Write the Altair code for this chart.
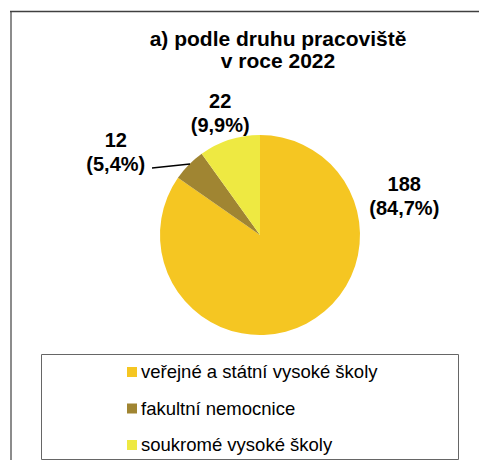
import math
import altair as alt
import pandas as pd

# ---- data ----
categories = ["veřejné a státní vysoké školy", "fakultní nemocnice", "soukromé vysoké školy"]
counts = [188, 12, 22]
colors = ["#F5C622", "#A08532", "#EEE942"]
title_lines = ["a) podle druhu pracoviště", "v roce 2022"]

total = sum(counts)
labels = [f"{v}\n({v / total * 100:.1f}%)".replace(".", ",") for v in counts]

df = pd.DataFrame({"cat": categories, "value": counts, "idx": list(range(len(counts))), "label": labels})
one = alt.Data(values=[{"k": 0}])

W, H = 471, 452
FONT = "Liberation Sans"
CX, CY = 252, 227

color = alt.Color("cat:N", scale=alt.Scale(domain=categories, range=colors), legend=None)
base = alt.Chart(df)

pie = base.mark_arc(radius=100).encode(
    theta=alt.Theta("value:Q", stack=True),
    color=color,
    order=alt.Order("idx:Q"),
    x=alt.value(CX),
    y=alt.value(CY),
)


def data_label(cat, r, dx, dy):
    return (
        base.transform_window(cum="sum(value)", sort=[alt.SortField("idx")], frame=[None, 0])
        .transform_joinaggregate(total="sum(value)")
        .transform_calculate(mid="(datum.cum - datum.value / 2) / datum.total")
        .transform_filter(alt.datum.cat == cat)
        .mark_text(
            radius=r, dx=dx, dy=dy, font=FONT, fontSize=20, fontWeight="bold",
            lineBreak="\n", lineHeight=24, align="center", baseline="middle", color="black",
        )
        .encode(
            theta=alt.Theta("mid:Q", stack=False, scale=alt.Scale(domain=[0, 1], range=[0, 2 * math.pi])),
            text="label:N",
            x=alt.value(CX),
            y=alt.value(CY),
        )
    )


lab_big = data_label(categories[0], 100, 98, -139)
lab_fak = data_label(categories[1], 166, -26, 23)
lab_sou = data_label(categories[2], 130, 0, -9)

leader = alt.Chart(one).mark_rule(color="black", strokeWidth=1.3).encode(
    x=alt.value(144), y=alt.value(160), x2=alt.value(182), y2=alt.value(156)
)

title = alt.Chart(one).mark_text(
    font=FONT, fontSize=21, fontWeight="bold", align="center", baseline="alphabetic",
    lineHeight=22, color="black",
).encode(x=alt.value(270), y=alt.value(38), text=alt.value(title_lines))

ypos = alt.Y("cat:N", sort=categories, scale=alt.Scale(range=[364, 437], padding=0), axis=None)
leg_sq = base.mark_square(size=100, opacity=1).encode(x=alt.value(124), y=ypos, color=color)
leg_tx = base.mark_text(
    align="left", baseline="middle", font=FONT, fontSize=18.5, color="black"
).encode(x=alt.value(133), y=ypos, text="cat:N")

leg_box = alt.Chart(one).mark_rect(filled=False, stroke="#666666", strokeWidth=1).encode(
    x=alt.value(33.5), x2=alt.value(450.5), y=alt.value(346.5), y2=alt.value(451.5)
)

frame_left = alt.Chart(one).mark_rule(color="#8c8c8c", strokeWidth=2).encode(
    x=alt.value(3), y=alt.value(3), y2=alt.value(452)
)
frame_top = alt.Chart(one).mark_rule(color="#404040", strokeWidth=1.5).encode(
    x=alt.value(2), x2=alt.value(471), y=alt.value(3.5)
)

chart = (
    alt.layer(frame_left, frame_top, pie, leader, lab_big, lab_fak, lab_sou, title, leg_box, leg_sq, leg_tx)
    .resolve_scale(theta="independent")
    .properties(width=W, height=H, padding=0, autosize=alt.AutoSizeParams(type="none"))
    .configure_view(stroke=None)
)

chart.save("out.html", embed_options={"renderer": "svg", "actions": False})
